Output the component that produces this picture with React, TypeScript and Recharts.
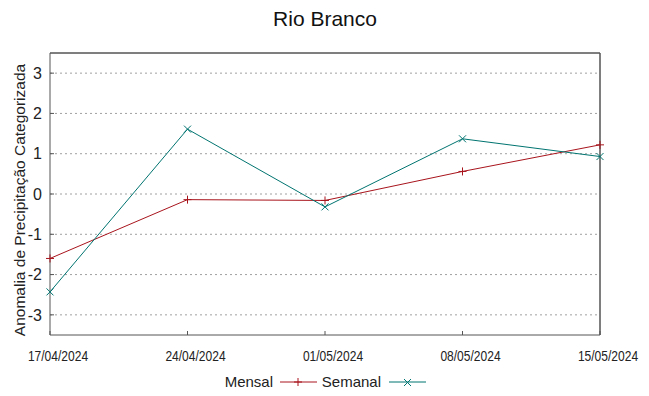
import { LineChart, Line, XAxis, YAxis, CartesianGrid, ReferenceLine } from 'recharts';

const dates = ['17/04/2024', '24/04/2024', '01/05/2024', '08/05/2024', '15/05/2024'];
const mensal = [-1.6, -0.14, -0.16, 0.56, 1.22];
const semanal = [-2.43, 1.61, -0.32, 1.37, 0.93];
const yTicks = [-3, -2, -1, 0, 1, 2, 3];

const RED = '#a8141c';
const TEAL = '#007470';
const FRAME = '#555555';
const FONT = '"Liberation Sans", Arial, sans-serif';

const data = dates.map((d, i) => ({ date: d, mensal: mensal[i], semanal: semanal[i] }));

const PlusDot = (props: any) => {
  const { cx, cy } = props;
  if (cx == null || cy == null) return null;
  return (
    <g stroke={RED} strokeWidth={1}>
      <line x1={cx - 4} y1={cy} x2={cx + 4} y2={cy} />
      <line x1={cx} y1={cy - 4} x2={cx} y2={cy + 4} />
    </g>
  );
};

const CrossDot = (props: any) => {
  const { cx, cy } = props;
  if (cx == null || cy == null) return null;
  return (
    <g stroke={TEAL} strokeWidth={1}>
      <line x1={cx - 3.5} y1={cy - 3.5} x2={cx + 3.5} y2={cy + 3.5} />
      <line x1={cx - 3.5} y1={cy + 3.5} x2={cx + 3.5} y2={cy - 3.5} />
    </g>
  );
};

// gnuplot puts the date labels a bit to the right of the tick
const DateTick = (props: any) => {
  const { x, y, payload } = props;
  return (
    <text
      transform={`translate(${x + 8},${y + 28}) scale(0.86,1)`}
      textAnchor="middle"
      fontFamily={FONT}
      fontSize={14}
      fill="#222"
    >
      {payload.value}
    </text>
  );
};

const App = () => {
  document.body.style.margin = '0';
  return (
    <div style={{ position: 'relative', width: 649, height: 396, background: '#fff', fontFamily: FONT }}>
      <LineChart width={649} height={396} data={data} margin={{ top: 52, right: 48, bottom: 0, left: 0 }}>
        <CartesianGrid
          xAxisId="bottom"
          yAxisId="left"
          vertical={false}
          stroke="#a0a0a0"
          strokeDasharray="2 3"
          syncWithTicks
        />
        <XAxis
          dataKey="date"
          xAxisId="bottom"
          height={61}
          tickSize={-4}
          tickLine={{ stroke: FRAME }}
          axisLine={{ stroke: FRAME }}
          tick={<DateTick />}
          interval={0}
        />
        <XAxis
          dataKey="date"
          xAxisId="top"
          orientation="top"
          height={1}
          tickSize={-4}
          tickLine={{ stroke: FRAME }}
          axisLine={{ stroke: FRAME }}
          tick={false}
          interval={0}
        />
        <YAxis
          yAxisId="left"
          width={50}
          type="number"
          domain={[-3.5, 3.5]}
          ticks={yTicks}
          tickSize={-4}
          tickMargin={12}
          tickLine={{ stroke: FRAME }}
          axisLine={{ stroke: FRAME }}
          tick={{ fill: '#222', fontSize: 16, fontFamily: FONT }}
        />
        <YAxis
          yAxisId="right"
          orientation="right"
          width={1}
          type="number"
          domain={[-3.5, 3.5]}
          ticks={yTicks}
          tickSize={-4}
          tickLine={{ stroke: FRAME }}
          axisLine={{ stroke: FRAME }}
          tick={false}
        />
        <ReferenceLine xAxisId="bottom" yAxisId="left" y={3.5} stroke={FRAME} strokeWidth={1} />
        <ReferenceLine xAxisId="bottom" yAxisId="left" x={dates[dates.length - 1]} stroke={FRAME} strokeWidth={1} />
        <Line
          xAxisId="bottom"
          yAxisId="left"
          dataKey="mensal"
          stroke={RED}
          strokeWidth={1}
          dot={<PlusDot />}
          activeDot={false}
          isAnimationActive={false}
        />
        <Line
          xAxisId="bottom"
          yAxisId="left"
          dataKey="semanal"
          stroke={TEAL}
          strokeWidth={1}
          dot={<CrossDot />}
          activeDot={false}
          isAnimationActive={false}
        />
      </LineChart>
      <svg width={649} height={396} style={{ position: 'absolute', left: 0, top: 0, pointerEvents: 'none' }}>
        <text x={325} y={26} textAnchor="middle" fontSize={21} fontFamily={FONT} fill="#111">
          Rio Branco
        </text>
        <text
          transform="translate(19,200) rotate(-90)"
          textAnchor="middle"
          dominantBaseline="central"
          fontSize={15.5}
          fontFamily={FONT}
          fill="#222"
        >
          Anomalia de Precipitação Categorizada
        </text>
        <text x={273} y={387} textAnchor="end" fontSize={15} fontFamily={FONT} fill="#222">
          Mensal
        </text>
        <line x1={280} y1={382} x2={317} y2={382} stroke={RED} strokeWidth={1} />
        <line x1={294} y1={382} x2={302} y2={382} stroke={RED} />
        <line x1={298} y1={378} x2={298} y2={386} stroke={RED} />
        <text x={381} y={387} textAnchor="end" fontSize={15} fontFamily={FONT} fill="#222">
          Semanal
        </text>
        <line x1={389} y1={382} x2={426} y2={382} stroke={TEAL} strokeWidth={1} />
        <line x1={404} y1={379} x2={411} y2={386} stroke={TEAL} />
        <line x1={404} y1={386} x2={411} y2={379} stroke={TEAL} />
      </svg>
    </div>
  );
};

export default App;
